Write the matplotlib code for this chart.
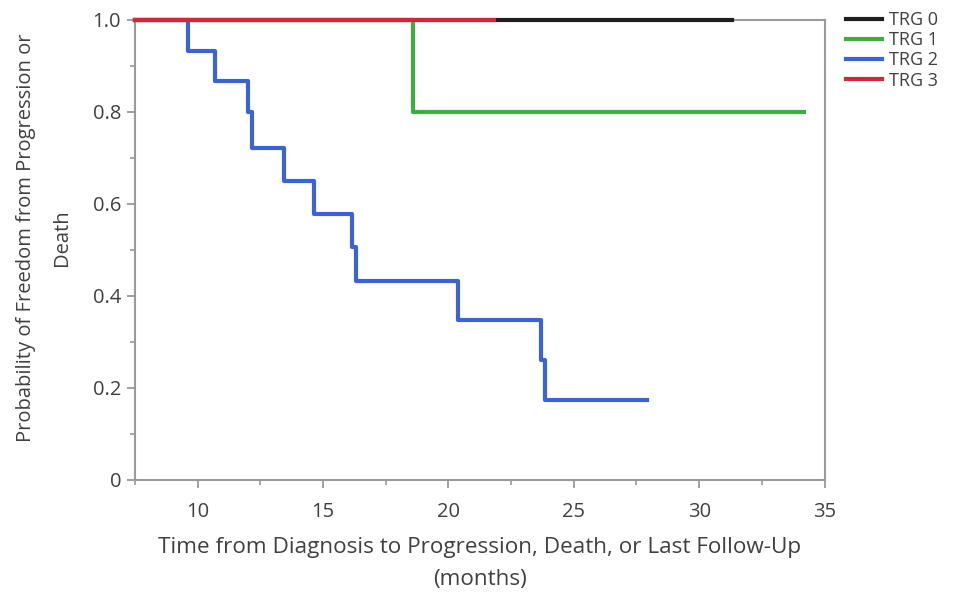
import matplotlib.pyplot as plt
from matplotlib.ticker import MultipleLocator, FuncFormatter

plt.rcParams['font.family'] = ['Open Sans', 'DejaVu Sans']

# Kaplan-Meier step curves (time in months, survival probability)
trg0_t = [0, 31.3]
trg0_s = [1.0, 1.0]
trg1_t = [0, 18.6, 34.2]
trg1_s = [1.0, 0.8, 0.8]
trg2_t = [0, 9.6, 10.7, 12.0, 12.15, 13.45, 14.65, 16.15, 16.3, 20.4, 23.7, 23.85, 27.9]
trg2_s = [1.0, 0.933, 0.867, 0.8, 0.722, 0.65, 0.578, 0.506, 0.433, 0.347, 0.26, 0.173, 0.173]
trg3_t = [7.5, 21.8]
trg3_s = [1.0, 1.0]

labels = ['TRG 0', 'TRG 1', 'TRG 2', 'TRG 3']
colors = ['#1e1e1e', '#3aae3f', '#3b63d6', '#d3263a']
series = [(trg0_t, trg0_s), (trg1_t, trg1_s), (trg2_t, trg2_s), (trg3_t, trg3_s)]

fig = plt.figure(figsize=(9.59, 5.97), dpi=100)
ax = fig.add_axes([0.1408, 0.196, 0.719, 0.7705])
ax.set_xlim(7.5, 35)
ax.set_ylim(0, 1.0)

for (t, s), c, lab in zip(series, colors, labels):
    # keep curves inside the x range, but let the 1.0 line show fully over the top spine
    t = [max(v, 7.5) for v in t]
    ax.step(t, s, where='post', color=c, lw=3, label=lab, clip_on=False, zorder=3)

ax.xaxis.set_major_locator(MultipleLocator(5))
ax.xaxis.set_minor_locator(MultipleLocator(2.5))
ax.yaxis.set_major_locator(MultipleLocator(0.2))
ax.yaxis.set_minor_locator(MultipleLocator(0.1))
ax.yaxis.set_major_formatter(FuncFormatter(lambda v, p: '0' if abs(v) < 1e-9 else f'{v:.1f}'))

for sp in ax.spines.values():
    sp.set_color('#9a9a9a')
    sp.set_linewidth(1.5)
ax.tick_params(which='major', length=6, width=1.3, color='#9a9a9a', labelsize=14.5, labelcolor='#404040')
ax.tick_params(axis='x', which='major', pad=10)
ax.tick_params(axis='y', which='major', pad=4)
ax.tick_params(which='minor', length=3.5, width=1.2, color='#9a9a9a')

ax.set_xlabel('Time from Diagnosis to Progression, Death, or Last Follow-Up\n(months)',
              fontsize=16.2, color='#404040', linespacing=1.65, labelpad=11)
ax.set_ylabel('Probability of Freedom from Progression or\nDeath',
              fontsize=14.5, color='#404040', linespacing=2.05)
ax.yaxis.set_label_coords(-0.092, 0.526)

leg = ax.legend(loc='upper left', bbox_to_anchor=(1.02, 1.035), frameon=False, fontsize=13,
                handlelength=2.0, handletextpad=0.4, labelspacing=0.12, borderaxespad=0)
for t in leg.get_texts():
    t.set_color('#404040')

fig.savefig('out.png', dpi=100, facecolor='white')
